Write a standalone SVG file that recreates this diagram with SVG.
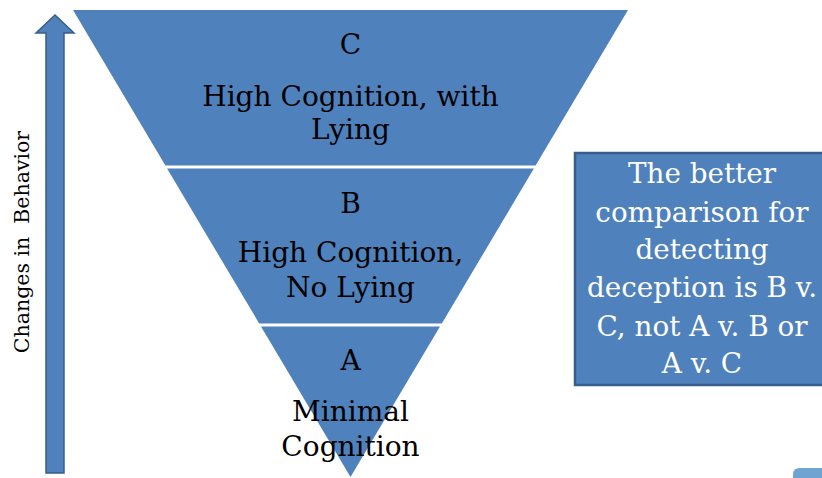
<svg xmlns="http://www.w3.org/2000/svg" width="822" height="478" viewBox="0 0 822 478">
<style>
.band{fill:#4f81bd;}
.lbl{font-family:"DejaVu Serif","Liberation Serif",serif;font-size:28px;fill:#000;text-anchor:middle;}
.box{fill:#4f81bd;stroke:#385d8a;stroke-width:2.5;}
.boxt{font-family:"DejaVu Serif","Liberation Serif",serif;font-size:27.8px;fill:#fff;text-anchor:middle;}
.axis{font-family:"DejaVu Serif","Liberation Serif",serif;font-size:20.5px;fill:#000;text-anchor:middle;white-space:pre;}
</style>
<rect width="822" height="478" fill="#fff"/>
<g id="axis-arrow">
<path d="M46,473 L46,33 L36,33 L55,15 L74,33 L64,33 L64,473 Z" fill="#4f81bd" stroke="#385d8a" stroke-width="1.5"/>
<text class="axis" transform="translate(28.5,242) rotate(-90)">Changes in  Behavior</text>
</g>
<g id="band-c">
<polygon class="band" points="73,10 628,10 535.6,165.5 165.4,165.5"/>
<text class="lbl" x="350.5" y="54">C</text>
<text class="lbl" x="350.5" y="106">High Cognition, with</text>
<text class="lbl" x="350.5" y="139">Lying</text>
</g>
<g id="band-b">
<polygon class="band" points="167.1,168.5 533.9,168.5 441.8,323.5 259.2,323.5"/>
<text class="lbl" x="350.5" y="213">B</text>
<text class="lbl" x="350.5" y="262">High Cognition,</text>
<text class="lbl" x="350.5" y="297">No Lying</text>
</g>
<g id="band-a">
<polygon class="band" points="261,326.5 440,326.5 350.5,477"/>
<text class="lbl" x="350.5" y="370">A</text>
<text class="lbl" x="350.5" y="421">Minimal</text>
<text class="lbl" x="350.5" y="456">Cognition</text>
</g>
<g id="note">
<rect class="box" x="575" y="153" width="250" height="232"/>
<text class="boxt" x="702" y="183">The better</text>
<text class="boxt" x="702" y="221.5">comparison for</text>
<text class="boxt" x="702" y="259">detecting</text>
<text class="boxt" x="702" y="297">deception is B v.</text>
<text class="boxt" x="702" y="336">C, not A v. B or</text>
<text class="boxt" x="702" y="373">A v. C</text>
</g>
<g id="corner">
<path d="M793,478 L793,474 Q793,468 800,468 L822,468 L822,478 Z" fill="#6fa3d2"/>
</g>
</svg>
